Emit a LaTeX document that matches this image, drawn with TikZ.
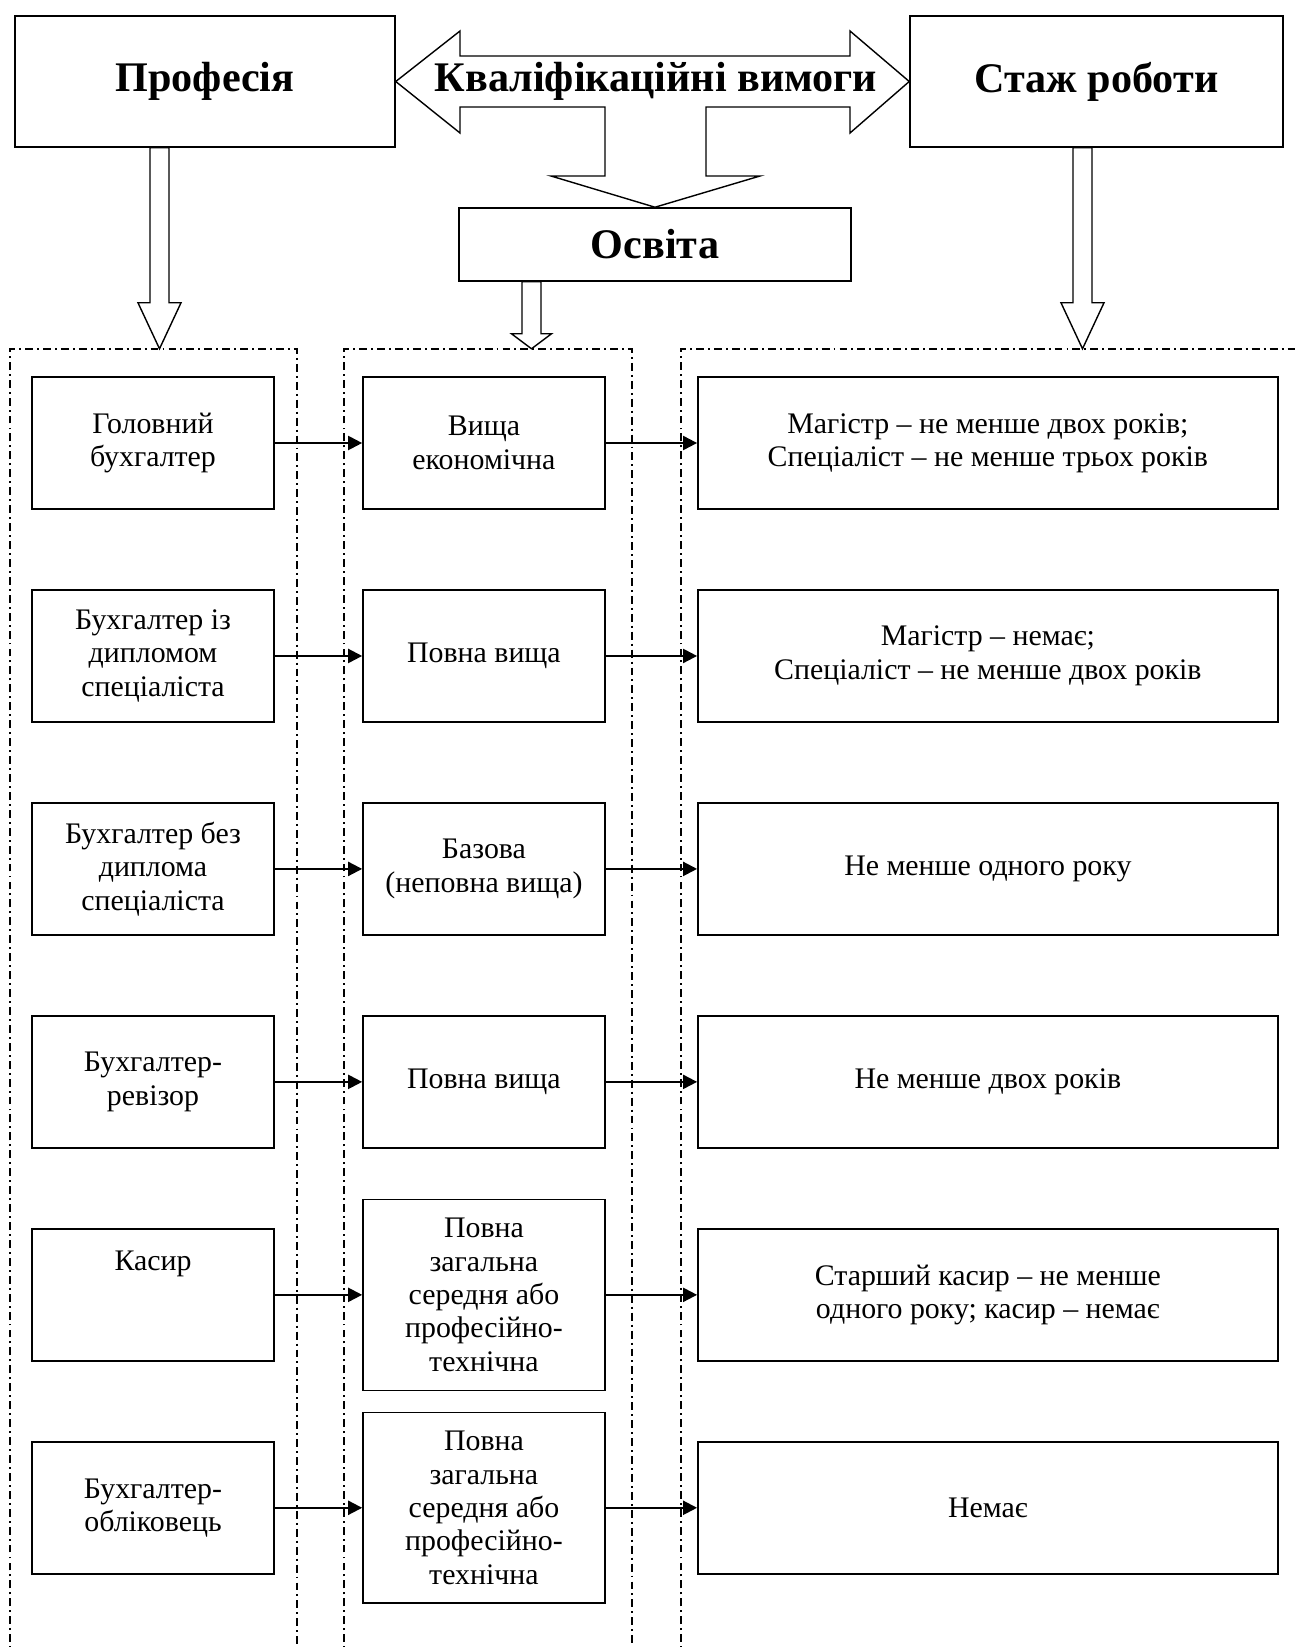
\documentclass[tikz,border=0pt]{standalone}
\usepackage{fontspec}
\setmainfont{Liberation Serif}
\usetikzlibrary{arrows.meta,positioning,calc}

\begin{document}
\begin{tikzpicture}[x=0.02cm, y=-0.02cm, node distance=4.26cm,
    box/.style={draw, rectangle, line width=0.9pt, minimum width=4.84cm, minimum height=2.64cm, align=center, inner sep=2pt, font=\fontsize{17}{19}\selectfont},
    tallbox/.style={box, minimum height=3.82cm},
    widebox/.style={box, minimum width=11.6cm},
    titlebox/.style={draw, rectangle, line width=0.9pt, minimum height=2.62cm, font=\fontsize{24}{28}\selectfont\bfseries},
    hollow/.style={draw, line width=0.8pt, fill=white},
    column/.style={line width=0.6pt, dash pattern=on 4.5pt off 2.3pt on 1.1pt off 2.3pt},
    link/.style={line width=1.2pt, -{Triangle[length=8pt,width=8pt]}}]

    \useasboundingbox (0,0) rectangle (1298,1647);

    % top row
    \node[titlebox, minimum width=7.6cm] (prof) at (205,81.5) {Професія};
    \node[titlebox, minimum width=7.46cm] (stazh) at (1096.5,81.5) {Стаж роботи};
    \node[titlebox, minimum width=7.84cm, minimum height=1.46cm] (osvita) at (655,244.5) {Освіта};

    \draw[hollow] (prof.east) -- (460,31) -- (460,56) -- (850,56) -- (850,31) -- (stazh.west)
        -- (850,133) -- (850,107) -- (706,107) -- (706,176) -- (760,176) -- (osvita.north)
        -- (551,176) -- (605,176) -- (605,107) -- (460,107) -- (460,133) -- cycle;
    \node[font=\fontsize{24}{28}\selectfont\bfseries] (kval) at (656,81) {Кваліфікаційні вимоги};

    \draw[hollow] ($(prof.south)+(-55,0)$) -- ++(0,155) -- ++(-12,0) -- ++(21.5,46) -- ++(21.5,-46) -- ++(-12,0) -- ++(0,-155) -- cycle;
    \draw[hollow] ($(stazh.south)+(-23.5,0)$) -- ++(0,155) -- ++(-12,0) -- ++(21.5,46) -- ++(21.5,-46) -- ++(-12,0) -- ++(0,-155) -- cycle;
    \draw[hollow] ($(osvita.south)+(-133,0)$) -- ++(0,52) -- ++(-10.5,0) -- ++(20,15) -- ++(20,-15) -- ++(-10.5,0) -- ++(0,-52) -- cycle;

    % columns
    \draw[column] (10,1660) -- (10,349) -- (297,349) -- (297,1660);
    \draw[column] (344,1660) -- (344,349) -- (632,349) -- (632,1660);
    \draw[column] (681,1660) -- (681,349) -- (1310,349);

    % professions
    \node[box] (l1) at (153,443) {Головний\\бухгалтер};
    \node[box, below of=l1] (l2) {Бухгалтер із\\дипломом\\спеціаліста};
    \node[box, below of=l2] (l3) {Бухгалтер без\\диплома\\спеціаліста};
    \node[box, below of=l3] (l4) {Бухгалтер-\\ревізор};
    \node[box, below of=l4] (l5) {\raisebox{1.36cm}{Касир}};
    \node[box, below of=l5] (l6) {Бухгалтер-\\обліковець};

    % education
    \node[box, right of=l1, xshift=2.36cm] (m1) {Вища\\економічна};
    \node[box, right of=l2, xshift=2.36cm] (m2) {Повна вища};
    \node[box, right of=l3, xshift=2.36cm] (m3) {Базова\\(неповна вища)};
    \node[box, right of=l4, xshift=2.36cm] (m4) {Повна вища};
    \node[tallbox, right of=l5, xshift=2.36cm] (m5) {Повна\\загальна\\середня або\\професійно-\\технічна};
    \node[tallbox, right of=l6, xshift=2.36cm] (m6) {Повна\\загальна\\середня або\\професійно-\\технічна};

    % experience
    \node[widebox, right of=m1, xshift=5.82cm] (r1) {Магістр – не менше двох років;\\Спеціаліст – не менше трьох років};
    \node[widebox, right of=m2, xshift=5.82cm] (r2) {Магістр – немає;\\Спеціаліст – не менше двох років};
    \node[widebox, right of=m3, xshift=5.82cm] (r3) {Не менше одного року};
    \node[widebox, right of=m4, xshift=5.82cm] (r4) {Не менше двох років};
    \node[widebox, right of=m5, xshift=5.82cm] (r5) {Старший касир – не менше\\одного року; касир – немає};
    \node[widebox, right of=m6, xshift=5.82cm] (r6) {Немає};

    \foreach \i in {1,...,6} {
        \draw[link] (l\i) -- (m\i);
        \draw[link] (m\i) -- (r\i);
    }
\end{tikzpicture}
\end{document}
